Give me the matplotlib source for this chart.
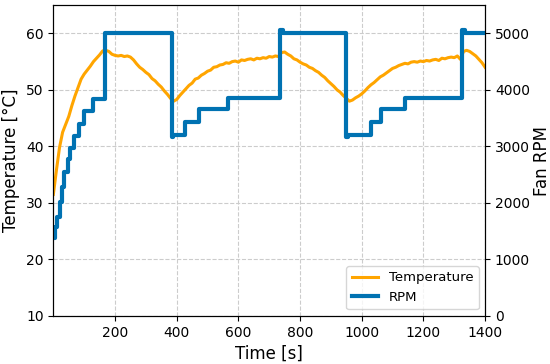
import matplotlib
matplotlib.use('Agg')
import matplotlib.pyplot as plt

# temperature sampled every 10 s
temp_t = list(range(0, 1410, 10))
temp_c = [31.5, 35.8, 39.8, 42.5, 43.9, 45.3, 47.2, 48.9, 50.4, 51.9,
          52.8, 53.5, 54.2, 55.0, 55.6, 56.2, 56.9, 57.0, 56.8, 56.3,
          56.1, 56.0, 56.1, 55.9, 56.0, 55.8, 55.3, 54.6, 54.0, 53.6,
          53.1, 52.7, 52.0, 51.6, 51.0, 50.5, 49.8, 49.2, 48.5, 48.0,
          48.3, 49.0, 49.6, 50.2, 50.8, 51.2, 51.9, 52.1, 52.6, 52.9,
          53.3, 53.5, 54.0, 54.1, 54.4, 54.5, 54.8, 54.7, 55.0, 55.1,
          54.9, 55.3, 55.2, 55.4, 55.5, 55.3, 55.6, 55.5, 55.7, 55.6,
          55.9, 55.8, 56.0, 55.9, 56.6, 56.7, 56.3, 56.0, 55.5, 55.3,
          54.9, 54.6, 54.4, 54.0, 53.8, 53.4, 53.1, 52.6, 52.2, 51.6,
          51.1, 50.6, 50.0, 49.6, 49.0, 48.5, 48.0, 48.2, 48.6, 48.9,
          49.3, 49.8, 50.4, 50.9, 51.3, 51.8, 52.3, 52.6, 53.0, 53.4,
          53.8, 54.0, 54.3, 54.5, 54.7, 54.6, 54.9, 55.0, 54.9, 55.1,
          55.0, 55.2, 55.1, 55.3, 55.4, 55.2, 55.6, 55.5, 55.7, 55.8,
          55.7, 56.0, 55.4, 56.8, 57.0, 56.8, 56.4, 56.0, 55.4, 54.8,
          54.0]

# fan speed (step changes)
rpm_t = [0, 6, 12, 20, 27, 35, 47, 55, 66, 82, 100, 127, 169, 384, 388,
         428, 471, 565, 734, 744, 950, 954, 1030, 1063, 1141, 1325, 1335, 1400]
rpm_v = [1380, 1580, 1750, 2020, 2290, 2540, 2770, 2980, 3180, 3390, 3620,
         3830, 5000, 3170, 3210, 3430, 3660, 3860, 5060, 5000, 3170, 3210,
         3430, 3660, 3860, 5060, 5000, 5000]

fig, ax1 = plt.subplots(figsize=(5.5, 3.64), dpi=100)
fig.subplots_adjust(left=0.097, right=0.882, top=0.986, bottom=0.132)

ax2 = ax1.twinx()
l1, = ax1.plot(temp_t, temp_c, color='#FFA500', lw=2.2, label='Temperature')
l2, = ax2.plot(rpm_t, rpm_v, color='#0072B2', lw=3, drawstyle='steps-post', label='RPM')

ax1.set_xlim(0, 1400)
ax1.set_ylim(10, 65)
ax2.set_ylim(0, 5500)
ax1.set_xticks([200, 400, 600, 800, 1000, 1200, 1400])
ax1.set_yticks([10, 20, 30, 40, 50, 60])
ax2.set_yticks([0, 1000, 2000, 3000, 4000, 5000])

ax1.grid(True, linestyle='--', color='#cccccc', lw=0.8)
ax1.set_xlabel('Time [s]', fontsize=12)
ax1.set_ylabel('Temperature [°C]', fontsize=12)
ax2.set_ylabel('Fan RPM', fontsize=12, labelpad=2)
ax1.tick_params(labelsize=10)
ax2.tick_params(labelsize=10)

ax2.legend([l1, l2], ['Temperature', 'RPM'], loc='lower right', fontsize=9.5)

plt.savefig('out.png', dpi=100)
